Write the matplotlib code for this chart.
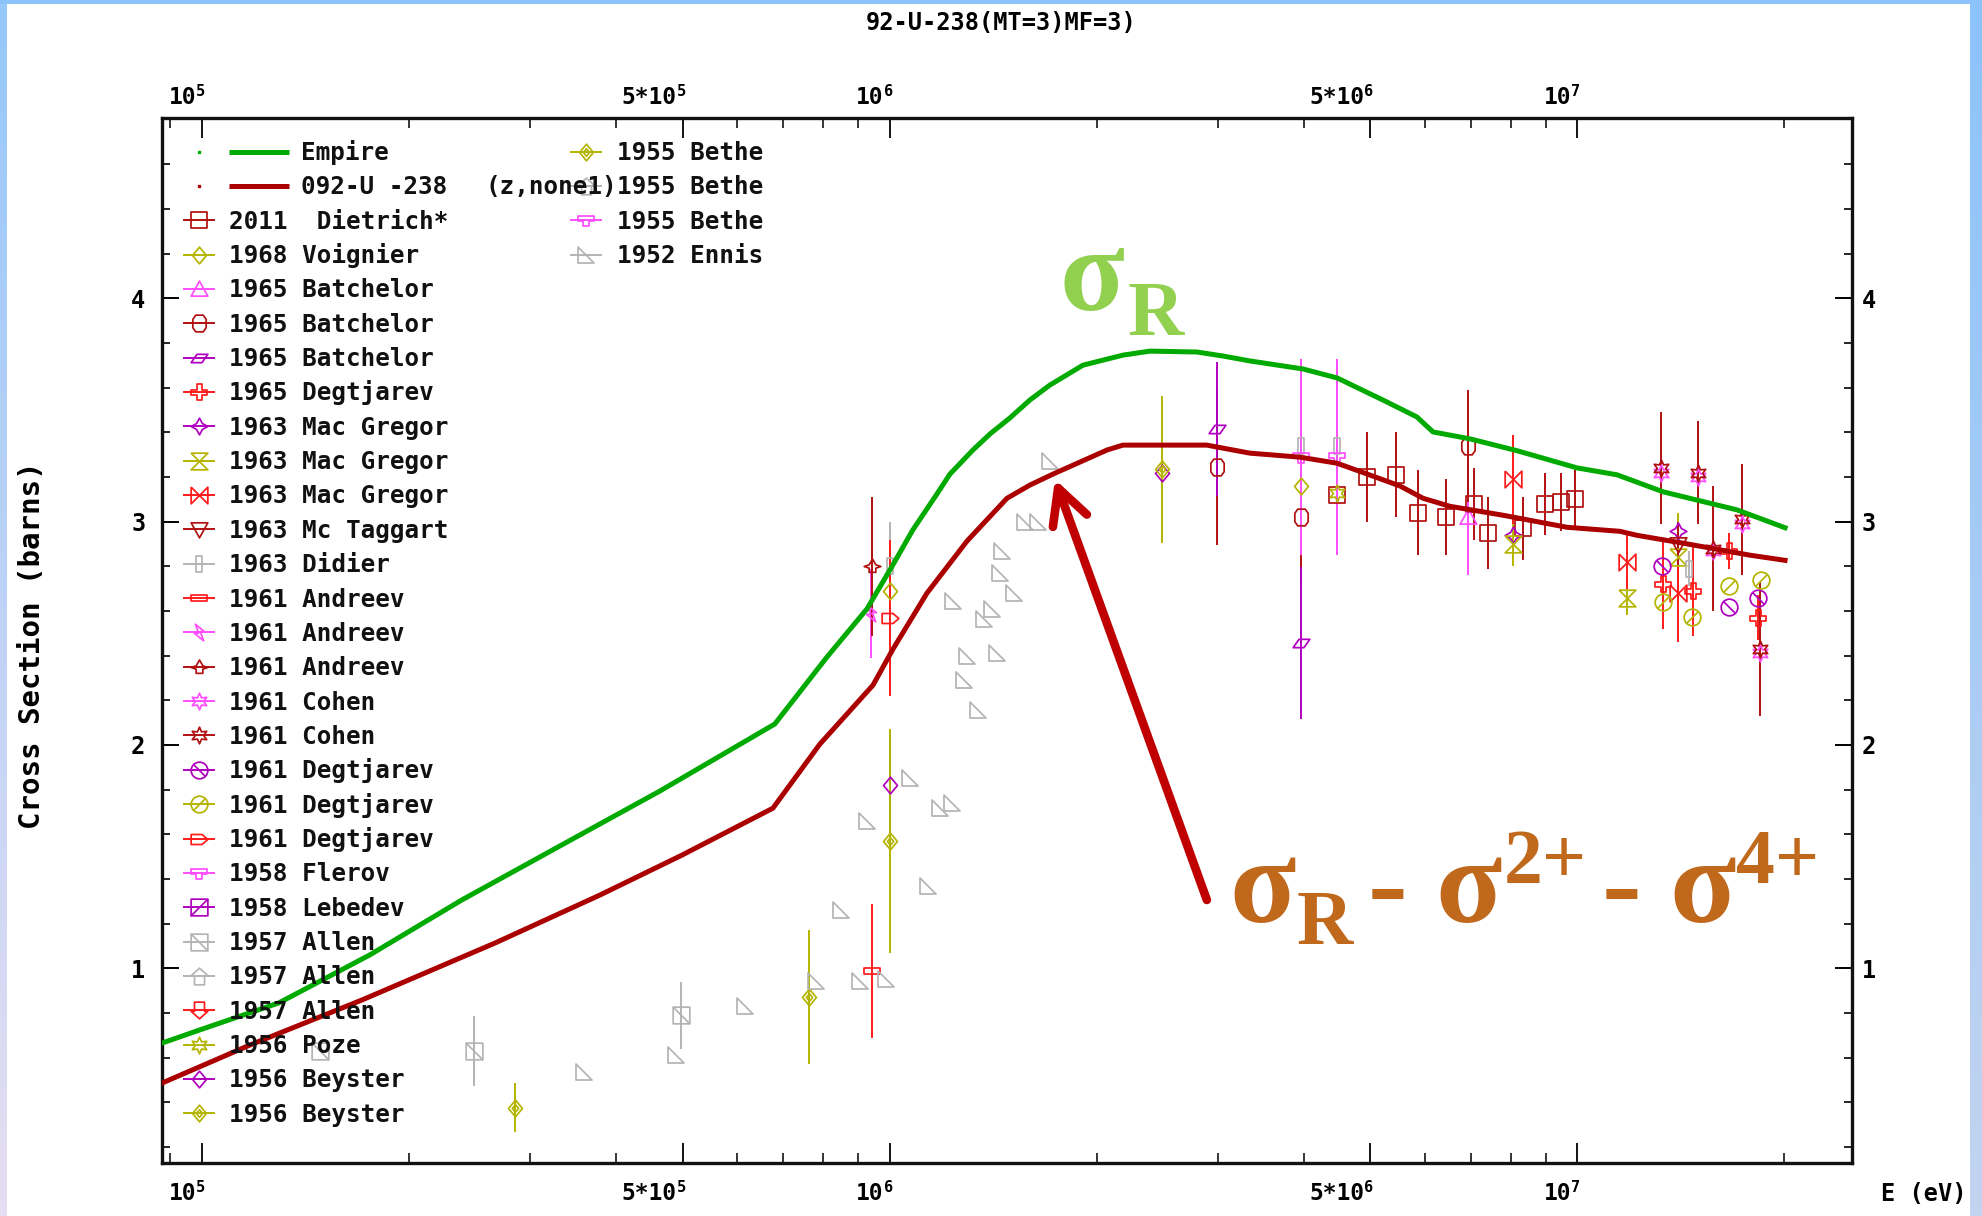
#!/usr/bin/env python3
import numpy as np
import matplotlib
matplotlib.use("Agg")
import matplotlib.pyplot as plt
from matplotlib.path import Path
from matplotlib import transforms

W, H = 1982, 1216
MONO = "DejaVu Sans Mono"
SERIF = "Liberation Serif"

# ──────────────────────────────────────────────────────────────────────────────
# Evaluated curves (E in eV, cross section in barns)
# ──────────────────────────────────────────────────────────────────────────────
empire_e = [8.75e4, 9.93e4, 1.294e5, 1.755e5, 2.388e5, 3.317e5, 4.636e5, 6.81e5,
            8.11e5, 9.27e5, 1.011e6, 1.081e6, 1.172e6, 1.224e6, 1.322e6, 1.400e6,
            1.497e6, 1.600e6, 1.711e6, 1.911e6, 2.185e6, 2.392e6, 2.80e6, 3.054e6,
            3.343e6, 3.993e6, 4.475e6, 5.218e6, 5.848e6, 6.171e6, 6.985e6, 8.176e6,
            9.994e6, 1.143e7, 1.333e7, 1.708e7, 2.006e7]
empire_s = [0.665, 0.724, 0.845, 1.060, 1.306, 1.548, 1.794, 2.094,
            2.394, 2.609, 2.806, 2.963, 3.124, 3.213, 3.321, 3.393,
            3.465, 3.545, 3.612, 3.701, 3.746, 3.764, 3.760, 3.742,
            3.720, 3.684, 3.644, 3.545, 3.469, 3.402, 3.371, 3.318,
            3.241, 3.210, 3.134, 3.053, 2.973]

u238_e = [8.75e4, 1.174e5, 1.709e5, 2.668e5, 3.792e5, 4.992e5, 6.767e5, 7.92e5,
          9.461e5, 1.0114e6, 1.1335e6, 1.296e6, 1.482e6, 1.600e6, 1.728e6, 2.071e6,
          2.185e6, 2.894e6, 3.343e6, 3.954e6, 4.475e6, 4.996e6, 5.525e6, 5.968e6,
          6.531e6, 7.801e6, 9.665e6, 1.154e7, 1.222e7, 1.425e7, 1.784e7, 2.006e7]
u238_s = [0.486, 0.656, 0.858, 1.113, 1.328, 1.507, 1.717, 2.004,
          2.268, 2.429, 2.680, 2.913, 3.105, 3.164, 3.213, 3.321,
          3.343, 3.343, 3.307, 3.289, 3.262, 3.209, 3.160, 3.105,
          3.069, 3.029, 2.975, 2.957, 2.939, 2.904, 2.850, 2.827]

# ──────────────────────────────────────────────────────────────────────────────
# Experimental data (E in eV, sigma, d_sigma in barns)
# ──────────────────────────────────────────────────────────────────────────────
dietrich_e = [4.47e6, 4.95e6, 5.45e6, 5.87e6, 6.45e6, 7.08e6, 7.42e6, 8.34e6, 8.98e6, 9.47e6, 9.93e6]
dietrich_s = [3.12, 3.20, 3.21, 3.04, 3.02, 3.08, 2.95, 2.97, 3.08, 3.09, 3.10]
dietrich_d = [0.21, 0.20, 0.19, 0.19, 0.17, 0.16, 0.16, 0.14, 0.14, 0.13, 0.13]

voignier_e = [1.0e6, 3.96e6]
voignier_s = [2.69, 3.16]
voignier_d = [0.0, 0.0]

batch_tri_e = [6.94e6]
batch_tri_s = [3.02]
batch_tri_d = [0.26]

batch_oct_e = [2.99e6, 3.96e6, 6.94e6]
batch_oct_s = [3.245, 3.02, 3.34]
batch_oct_d = [0.35, 0.30, 0.25]

batch_par_e = [2.99e6, 3.96e6]
batch_par_s = [3.416, 2.455]
batch_par_d = [0.30, 0.34]

degt65_e = [1.333e7, 1.472e7, 1.663e7, 1.834e7]
degt65_s = [2.72, 2.69, 2.87, 2.57]
degt65_d = [0.20, 0.20, 0.08, 0.10]

macg_star_e = [8.06e6, 1.40e7]
macg_star_s = [2.94, 2.96]
macg_star_d = [0.0, 0.0]

macg_hg_e = [8.06e6, 1.18e7, 1.40e7]
macg_hg_s = [2.90, 2.66, 2.84]
macg_hg_d = [0.10, 0.08, 0.20]

macg_bt_e = [8.06e6, 1.18e7, 1.40e7]
macg_bt_s = [3.19, 2.82, 2.68]
macg_bt_d = [0.20, 0.12, 0.22]

mctag_e = [1.40e7]
mctag_s = [2.90]
mctag_d = [0.10]

didier_e = [1.0e6, 3.96e6, 4.48e6, 1.454e7]
didier_s = [2.80, 3.34, 3.34, 2.79]
didier_d = [0.20, 0.39, 0.39, 0.08]

andr_rect_e = [9.44e5]
andr_rect_s = [0.99]
andr_rect_d = [0.30]

andr_bolt_e = [9.40e5]
andr_bolt_s = [2.59]
andr_bolt_d = [0.20]

andr_hat_e = [9.44e5]
andr_hat_s = [2.80]
andr_hat_d = [0.31]

cohen_m_e = [1.326e7, 1.499e7, 1.576e7, 1.739e7, 1.845e7]
cohen_m_s = [3.22, 3.20, 2.87, 2.99, 2.41]
cohen_m_d = [0.0, 0.0, 0.0, 0.0, 0.0]

cohen_r_e = [1.326e7, 1.499e7, 1.576e7, 1.739e7, 1.845e7]
cohen_r_s = [3.24, 3.22, 2.88, 3.01, 2.43]
cohen_r_d = [0.25, 0.23, 0.28, 0.25, 0.30]

degt61_p_e = [1.33e7, 1.663e7, 1.834e7]
degt61_p_s = [2.80, 2.62, 2.66]
degt61_p_d = [0.0, 0.0, 0.0]

degt61_o_e = [1.333e7, 1.47e7, 1.663e7, 1.85e7]
degt61_o_s = [2.64, 2.575, 2.71, 2.74]
degt61_o_d = [0.0, 0.0, 0.0, 0.0]

degt61_r_e = [1.0e6]
degt61_r_s = [2.57]
degt61_r_d = [0.35]

flerov_e = [3.96e6, 4.48e6]
flerov_s = [3.29, 3.29]
flerov_d = [0.44, 0.44]

allen_sq_e = [1.486e5, 2.486e5, 4.97e5]
allen_sq_s = [0.63, 0.63, 0.79]
allen_sq_d = [0.0, 0.155, 0.15]

poze_e = [4.47e6]
poze_s = [3.13]
poze_d = [0.0]

beyst_p_e = [1.0e6, 2.49e6]
beyst_p_s = [1.82, 3.22]
beyst_p_d = [0.24, 0.0]

beyst_o_e = [2.857e5, 7.64e5, 1.0e6]
beyst_o_s = [0.375, 0.87, 1.57]
beyst_o_d = [0.11, 0.30, 0.50]

bethe_o_e = [2.49e6]
bethe_o_s = [3.235]
bethe_o_d = [0.33]

ennis_e = [3.595e5, 4.89e5, 6.16e5, 7.83e5, 8.51e5, 9.06e5, 9.28e5, 9.88e5, 1.071e6,
           1.138e6, 1.184e6, 1.231e6, 1.238e6, 1.283e6, 1.297e6, 1.346e6, 1.372e6,
           1.408e6, 1.431e6, 1.447e6, 1.455e6, 1.517e6, 1.573e6, 1.645e6, 1.711e6]
ennis_s = [0.535, 0.61, 0.83, 0.945, 1.26, 0.945, 1.66, 0.95, 1.85,
           1.37, 1.72, 1.74, 2.645, 2.29, 2.40, 2.155, 2.565,
           2.61, 2.41, 2.77, 2.87, 2.68, 3.00, 3.00, 3.27]
ennis_d = [0.0] * len(ennis_e)

empty = []

# axis ticks
x_major = [1e5, 5e5, 1e6, 5e6, 1e7]
x_major_base = ["10", "5*10", "10", "5*10", "10"]
x_major_exp = ["5", "5", "6", "6", "7"]
x_minor = [9e4, 2e5, 3e5, 4e5, 6e5, 7e5, 8e5, 9e5, 2e6, 3e6, 4e6, 6e6, 7e6, 8e6, 9e6, 2e7]
y_major = [1, 2, 3, 4]

# ──────────────────────────────────────────────────────────────────────────────
# Marker shapes
# ──────────────────────────────────────────────────────────────────────────────
def closed(pts):
    return Path(list(pts) + [pts[0]], closed=True)


def star(n, r_in):
    ang = np.linspace(np.pi / 2, np.pi / 2 + 2 * np.pi, 2 * n, endpoint=False)
    rad = np.where(np.arange(2 * n) % 2 == 0, 1.0, r_in)
    return closed(list(zip(rad * np.cos(ang), rad * np.sin(ang))))


SQ = closed([(-1, -1), (1, -1), (1, 1), (-1, 1)])
DIA = closed([(0, -1.2), (1, 0), (0, 1.2), (-1, 0)])
CIRC = Path.unit_circle()

MARKERS = {
    "sq": SQ,
    "dia": DIA,
    "dia2": Path.make_compound_path(DIA, closed([(0, -0.55), (0.45, 0), (0, 0.55), (-0.45, 0)])),
    "tri_up": closed([(-1, -0.8), (1, -0.8), (0, 1)]),
    "tri_dn": closed([(-1, 0.8), (1, 0.8), (0, -1)]),
    "oct": closed([(-0.45, -1), (0.45, -1), (0.8, -0.5), (0.8, 0.5),
                   (0.45, 1), (-0.45, 1), (-0.8, 0.5), (-0.8, -0.5)]),
    "para": closed([(-1, -0.5), (0.3, -0.5), (1, 0.5), (-0.3, 0.5)]),
    "plus": closed([(-0.3, -1), (0.3, -1), (0.3, -0.3), (1, -0.3), (1, 0.3), (0.3, 0.3),
                    (0.3, 1), (-0.3, 1), (-0.3, 0.3), (-1, 0.3), (-1, -0.3), (-0.3, -0.3)]),
    "star4": star(4, 0.5),
    "star6": star(6, 0.5),
    "hourglass": Path([(-1, 1), (1, 1), (-1, -1), (1, -1), (-1, 1)]),
    "bowtie": Path([(-1, 1), (-1, -1), (1, 1), (1, -1), (-1, 1)]),
    "vrect": closed([(-0.35, -1), (0.35, -1), (0.35, 1), (-0.35, 1)]),
    "hrect": closed([(-1, -0.35), (1, -0.35), (1, 0.35), (-1, 0.35)]),
    "bolt": closed([(-0.5, 1), (0.6, 0.1), (0.1, 0.1), (0.5, -1), (-0.6, -0.1), (-0.1, -0.1)]),
    "hat": closed([(-1, 0), (-0.4, 0.2), (0, 0.9), (0.4, 0.2), (1, 0), (0.4, -0.2),
                   (0.4, -0.7), (-0.4, -0.7), (-0.4, -0.2)]),
    "circ_bs": Path.make_compound_path(CIRC, Path([(-0.7, 0.7), (0.7, -0.7)])),
    "circ_fs": Path.make_compound_path(CIRC, Path([(-0.7, -0.7), (0.7, 0.7)])),
    "sq_fs": Path.make_compound_path(SQ, Path([(-1, -1), (1, 1)])),
    "sq_bs": Path.make_compound_path(SQ, Path([(-1, 1), (1, -1)])),
    "pent_r": closed([(-1, -0.6), (0.3, -0.6), (1, 0), (0.3, 0.6), (-1, 0.6)]),
    "tee": closed([(-1, 0.5), (1, 0.5), (1, -0.1), (0.4, -0.1), (0.4, -0.7),
                   (-0.4, -0.7), (-0.4, -0.1), (-1, -0.1)]),
    "house_up": closed([(-0.6, -1), (0.6, -1), (0.6, 0.1), (1, 0.1), (0, 1), (-1, 0.1), (-0.6, 0.1)]),
    "house_dn": closed([(-0.6, 1), (0.6, 1), (0.6, -0.1), (1, -0.1), (0, -1), (-1, -0.1), (-0.6, -0.1)]),
    "rtri": closed([(-1, 1), (-1, -1), (1, -1)]),
}
MS = 12
MEW = 1.25

DKRED = "#b01010"
RED = "#ff1a1a"
OLIVE = "#b4b400"
MAGENTA = "#ff4dff"
PURPLE = "#b000c0"
GRAY = "#b4b4b4"

# label, marker, colour, data
series = [
    ("2011  Dietrich*", "sq", DKRED, dietrich_e, dietrich_s, dietrich_d),
    ("1968 Voignier", "dia", OLIVE, voignier_e, voignier_s, voignier_d),
    ("1965 Batchelor", "tri_up", MAGENTA, batch_tri_e, batch_tri_s, batch_tri_d),
    ("1965 Batchelor", "oct", DKRED, batch_oct_e, batch_oct_s, batch_oct_d),
    ("1965 Batchelor", "para", PURPLE, batch_par_e, batch_par_s, batch_par_d),
    ("1965 Degtjarev", "plus", RED, degt65_e, degt65_s, degt65_d),
    ("1963 Mac Gregor", "star4", PURPLE, macg_star_e, macg_star_s, macg_star_d),
    ("1963 Mac Gregor", "hourglass", OLIVE, macg_hg_e, macg_hg_s, macg_hg_d),
    ("1963 Mac Gregor", "bowtie", RED, macg_bt_e, macg_bt_s, macg_bt_d),
    ("1963 Mc Taggart", "tri_dn", DKRED, mctag_e, mctag_s, mctag_d),
    ("1963 Didier", "vrect", GRAY, didier_e, didier_s, didier_d),
    ("1961 Andreev", "hrect", RED, andr_rect_e, andr_rect_s, andr_rect_d),
    ("1961 Andreev", "bolt", MAGENTA, andr_bolt_e, andr_bolt_s, andr_bolt_d),
    ("1961 Andreev", "hat", DKRED, andr_hat_e, andr_hat_s, andr_hat_d),
    ("1961 Cohen", "star6", MAGENTA, cohen_m_e, cohen_m_s, cohen_m_d),
    ("1961 Cohen", "star6", DKRED, cohen_r_e, cohen_r_s, cohen_r_d),
    ("1961 Degtjarev", "circ_bs", PURPLE, degt61_p_e, degt61_p_s, degt61_p_d),
    ("1961 Degtjarev", "circ_fs", OLIVE, degt61_o_e, degt61_o_s, degt61_o_d),
    ("1961 Degtjarev", "pent_r", RED, degt61_r_e, degt61_r_s, degt61_r_d),
    ("1958 Flerov", "tee", MAGENTA, flerov_e, flerov_s, flerov_d),
    ("1958 Lebedev", "sq_fs", PURPLE, empty, empty, empty),
    ("1957 Allen", "sq_bs", GRAY, allen_sq_e, allen_sq_s, allen_sq_d),
    ("1957 Allen", "house_up", GRAY, empty, empty, empty),
    ("1957 Allen", "house_dn", RED, empty, empty, empty),
    ("1956 Poze", "star6", OLIVE, poze_e, poze_s, poze_d),
    ("1956 Beyster", "dia", PURPLE, beyst_p_e, beyst_p_s, beyst_p_d),
    ("1956 Beyster", "dia2", OLIVE, beyst_o_e, beyst_o_s, beyst_o_d),
]
series_col2 = [
    ("1955 Bethe", "dia2", OLIVE, bethe_o_e, bethe_o_s, bethe_o_d),
    ("1955 Bethe", "house_up", GRAY, empty, empty, empty),
    ("1955 Bethe", "tee", MAGENTA, empty, empty, empty),
    ("1952 Ennis", "rtri", GRAY, ennis_e, ennis_s, ennis_d),
]

# ──────────────────────────────────────────────────────────────────────────────
# Figure
# ──────────────────────────────────────────────────────────────────────────────
fig = plt.figure(figsize=(W / 100, H / 100), dpi=100)
fig.patch.set_facecolor("white")

AX_L, AX_R, AX_T, AX_B = 162, 1852, 118, 1163
ax = fig.add_axes([AX_L / W, 1 - AX_B / H, (AX_R - AX_L) / W, (AX_B - AX_T) / H])
ax.set_xscale("log")
ax.set_xlim(8.75e4, 2.51e7)
ax.set_ylim(0.128, 4.808)

for lab, mk, col, e, s, d in series + series_col2:
    if not e:
        continue
    ax.errorbar(e, s, yerr=d, fmt="none", ecolor=col, elinewidth=1.4, capsize=0, zorder=3)
    ax.plot(e, s, ls="none", marker=MARKERS[mk], ms=MS, mfc="none", mec=col, mew=MEW, zorder=4)

ax.plot(empire_e, empire_s, color="#00aa00", lw=3.6, zorder=5)
ax.plot(u238_e, u238_s, color="#aa0000", lw=3.6, zorder=5)

# frame and ticks
for sp in ax.spines.values():
    sp.set_linewidth(2.4)
    sp.set_color("#111111")
ax.set_xticks(x_major)
ax.set_xticks(x_minor, minor=True)
ax.set_xticklabels([])
ax.set_xticklabels([], minor=True)
ax.set_yticks(y_major)
ax.set_yticks([v / 10 for v in range(2, 48, 2) if v % 10], minor=True)
ax.tick_params(axis="x", which="major", direction="in", length=14.4, width=1.3,
               top=True, bottom=True)
ax.tick_params(axis="x", which="minor", direction="in", length=7.2, width=1.1,
               top=True, bottom=True)
ax.tick_params(axis="y", which="major", direction="in", length=12, width=1.4,
               left=True, right=True, labelleft=True, labelright=True, pad=7,
               labelsize=17)
ax.tick_params(axis="y", which="minor", direction="in", length=6, width=1.2,
               left=True, right=True)
for t in ax.yaxis.get_major_ticks():
    for lab in (t.label1, t.label2):
        lab.set_fontfamily(MONO)
        lab.set_fontweight("bold")
    t.label1.set_transform(t.label1.get_transform() +
                           transforms.ScaledTranslation(-5 / 72, 0, fig.dpi_scale_trans))

# energy labels (right edge at the tick, exponent raised)
xblend = transforms.blended_transform_factory(ax.transData, fig.transFigure)
join = transforms.offset_copy(xblend, fig=fig, x=-6, y=0, units="dots")
for e, base, ex in zip(x_major, x_major_base, x_major_exp):
    for yc in (98, 1194):
        ax.text(e, 1 - yc / H, base, transform=join, ha="right", va="center",
                fontsize=16.5, fontfamily=MONO, fontweight="bold", clip_on=False)
        ax.text(e, 1 - (yc - 6) / H, ex, transform=join, ha="left", va="center",
                fontsize=11, fontfamily=MONO, fontweight="bold", clip_on=False)

fig.text(1001 / W, 1 - 23 / H, "92-U-238(MT=3)MF=3)", ha="center", va="center",
         fontsize=17, fontfamily=MONO, fontweight="bold")
fig.text(32 / W, 1 - 645 / H, "Cross Section (barns)", rotation=90, ha="center",
         va="center", fontsize=21, fontfamily=MONO, fontweight="bold")
fig.text(1881 / W, 1 - 1194 / H, "E (eV)", ha="left", va="center",
         fontsize=17, fontfamily=MONO, fontweight="bold")

# arrow from the label to the reduced curve
ax.annotate("", xy=(1.74e6, 3.19), xytext=(2.894e6, 1.306),
            arrowprops=dict(arrowstyle="->,head_length=2.5,head_width=1.3",
                            mutation_scale=10, lw=6.2, color="#c00000",
                            shrinkA=0, shrinkB=0), zorder=6)

# ──────────────────────────────────────────────────────────────────────────────
# Overlay in pixel coordinates: legend, annotations, page border
# ──────────────────────────────────────────────────────────────────────────────
ov = fig.add_axes([0, 0, 1, 1])
ov.set_xlim(0, W)
ov.set_ylim(H, 0)
ov.axis("off")
ov.patch.set_alpha(0)

ROW0, DROW = 151.5, 34.35
TXT = dict(fontsize=17.5, fontfamily=MONO, fontweight="bold", va="baseline", color="#111111")


def legend_marker(x, y, mk, col):
    ov.plot([x - 15, x + 15], [y, y], color=col, lw=1.4)
    ov.plot([x], [y], marker=MARKERS[mk], ms=MS, mfc="none", mec=col, mew=MEW)


ov.plot([199], [ROW0], marker="s", ms=1.6, color="#00aa00")
ov.plot([229, 289], [ROW0, ROW0], color="#00aa00", lw=3.6, solid_capstyle="butt")
ov.text(301, ROW0 + 8.5, "Empire", **TXT)
ov.plot([199], [ROW0 + DROW], marker="s", ms=1.6, color="#aa0000")
ov.plot([229, 289], [ROW0 + DROW] * 2, color="#aa0000", lw=3.6, solid_capstyle="butt")
ov.text(301, ROW0 + DROW + 8.5, "092-U -238", **TXT)

for i, (lab, mk, col, *_rest) in enumerate(series):
    y = ROW0 + (i + 2) * DROW
    legend_marker(199, y, mk, col)
    ov.text(229, y + 8.5, lab, **TXT)

for i, (lab, mk, col, *_rest) in enumerate(series_col2):
    y = ROW0 + i * DROW
    if i == 1:
        ov.text(485, y + 8.5, "(z,none1)", **TXT)
    legend_marker(586, y, mk, col)
    ov.text(617, y + 8.5, lab, **TXT)

# sigma_R and reduced-sigma labels
GREEN_TXT = "#92d050"
ORANGE_TXT = "#c0681c"
big = dict(fontfamily=SERIF, fontweight="bold", va="baseline", ha="left")
ov.text(1060, 310, "σ", fontsize=86, color=GREEN_TXT, **big)
ov.text(1128, 335, "R", fontsize=56, color=GREEN_TXT, **big)

ov.text(1229, 922, "σ", fontsize=88, color=ORANGE_TXT, **big)
ov.text(1297, 944, "R", fontsize=56, color=ORANGE_TXT, **big)
ov.text(1368, 922, "-", fontsize=86, color=ORANGE_TXT, **big)
ov.text(1435, 922, "σ", fontsize=88, color=ORANGE_TXT, **big)
ov.text(1504, 883, "2+", fontsize=56, color=ORANGE_TXT, **big)
ov.text(1602, 922, "-", fontsize=86, color=ORANGE_TXT, **big)
ov.text(1669, 922, "σ", fontsize=88, color=ORANGE_TXT, **big)
ov.text(1736, 883, "4+", fontsize=56, color=ORANGE_TXT, **big)


# slide border strips
def vgrad(top, bottom, n=256):
    t = np.linspace(0, 1, n)[:, None, None]
    return (np.array(top)[None, None, :] * (1 - t) + np.array(bottom)[None, None, :] * t) / 255.0


ov.imshow(vgrad((140, 195, 250), (195, 212, 240)), extent=[1970, W, H, 0], aspect="auto")
ov.imshow(vgrad((150, 200, 250), (230, 222, 242)), extent=[0, 7, H, 0], aspect="auto")
ov.imshow(vgrad((140, 195, 250), (140, 195, 250), 2), extent=[0, W, 4, 0], aspect="auto")
ov.set_xlim(0, W)
ov.set_ylim(H, 0)

fig.savefig("out.png", dpi=100)
